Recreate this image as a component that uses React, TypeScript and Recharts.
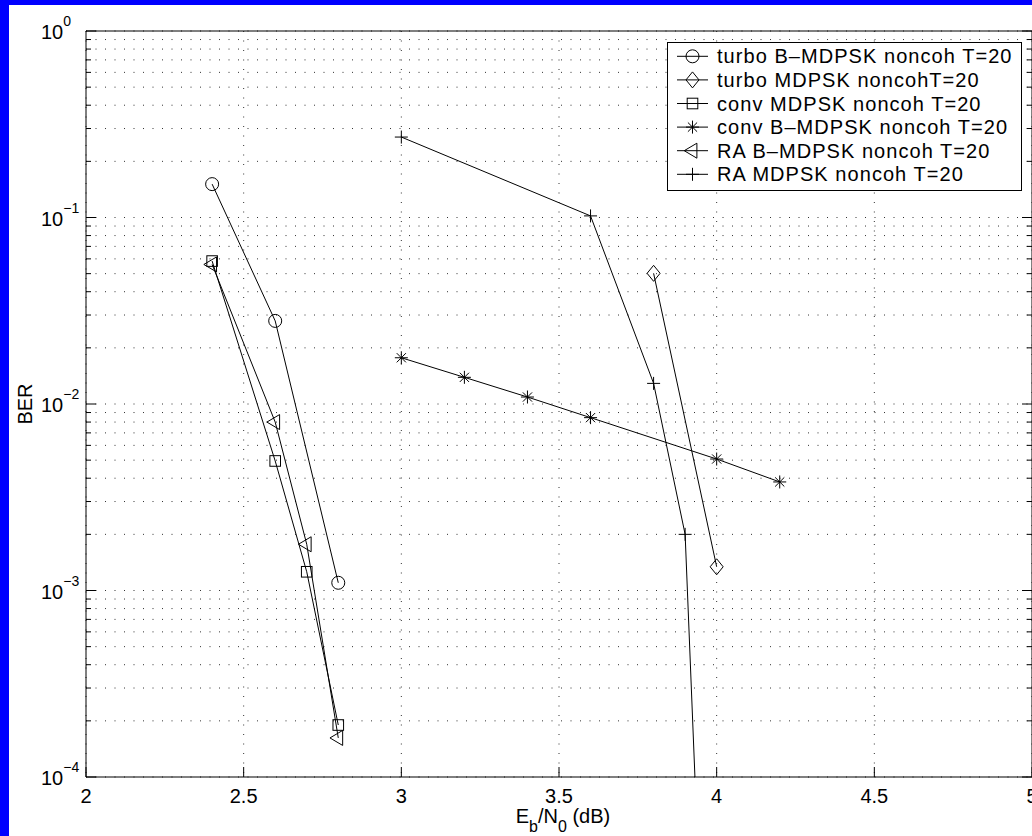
import React from 'react';
import { LineChart, Line, XAxis, YAxis, CartesianGrid, Legend } from 'recharts';

// BER curves vs Eb/N0 for noncoherent MDPSK / B-MDPSK schemes, T=20
const turboBX = [2.4, 2.6, 2.8];
const turboBBer = [0.151, 0.0279, 0.0011];

const turboX = [3.8, 4.0];
const turboBer = [0.0502, 0.00134];

const convX = [2.4, 2.6, 2.7, 2.8];
const convBer = [0.0584, 0.00495, 0.00126, 0.00019];

const convBX = [3.0, 3.2, 3.4, 3.6, 4.0, 4.2];
const convBBer = [0.0177, 0.0139, 0.0109, 0.00845, 0.00507, 0.00382];

const raBX = [2.4, 2.6, 2.7, 2.8];
const raBBer = [0.056, 0.008, 0.00177, 0.000162];

const raX = [3.0, 3.6, 3.8, 3.9, 4.0];
const raBer = [0.27, 0.102, 0.0129, 0.002, 1.3e-7];

const xTicks = [2, 2.5, 3, 3.5, 4, 4.5, 5];
const decades = [-4, -3, -2, -1];
const yTicks = [...decades.flatMap(d => [1, 2, 3, 4, 5, 6, 7, 8, 9].map(m => m * Math.pow(10, d))), 1];

const FONT = '"Liberation Sans", Arial, Helvetica, sans-serif';

const toPoints = (xs: number[], ys: number[]) => xs.map((x, i) => ({ x, y: ys[i] }));

type MarkerKind = 'circle' | 'diamond' | 'square' | 'star' | 'triangle' | 'plus';

const series: { name: string; marker: MarkerKind; data: { x: number; y: number }[] }[] = [
  { name: 'turbo B\u2013MDPSK noncoh T=20', marker: 'circle', data: toPoints(turboBX, turboBBer) },
  { name: 'turbo MDPSK noncohT=20', marker: 'diamond', data: toPoints(turboX, turboBer) },
  { name: 'conv MDPSK noncoh T=20', marker: 'square', data: toPoints(convX, convBer) },
  { name: 'conv B\u2013MDPSK noncoh T=20', marker: 'star', data: toPoints(convBX, convBBer) },
  { name: 'RA B\u2013MDPSK noncoh T=20', marker: 'triangle', data: toPoints(raBX, raBBer) },
  { name: 'RA MDPSK noncoh T=20', marker: 'plus', data: toPoints(raX, raBer) },
];

function Marker({ kind, cx, cy }: { kind: MarkerKind; cx: number; cy: number }) {
  const s = { fill: 'none', stroke: '#000', strokeWidth: 1 };
  switch (kind) {
    case 'circle':
      return <circle cx={cx} cy={cy} r={6.5} {...s} />;
    case 'diamond':
      return <polygon points={`${cx},${cy - 8} ${cx + 6.5},${cy} ${cx},${cy + 8} ${cx - 6.5},${cy}`} {...s} />;
    case 'square':
      return <rect x={cx - 5.3} y={cy - 5.3} width={10.6} height={10.6} {...s} />;
    case 'star':
      return (
        <path
          d={`M${cx - 6.5},${cy}H${cx + 6.5}M${cx},${cy - 6.5}V${cy + 6.5}M${cx - 4.6},${cy - 4.6}L${cx + 4.6},${cy + 4.6}M${cx - 4.6},${cy + 4.6}L${cx + 4.6},${cy - 4.6}`}
          {...s}
        />
      );
    case 'triangle':
      return <polygon points={`${cx - 8.3},${cy} ${cx + 4.4},${cy - 7.5} ${cx + 4.4},${cy + 7.5}`} {...s} />;
    case 'plus':
      return <path d={`M${cx - 6.5},${cy}H${cx + 6.5}M${cx},${cy - 6.5}V${cy + 6.5}`} {...s} />;
  }
  return null;
}

const isDecade = (v: number) => Math.abs(Math.log10(v) - Math.round(Math.log10(v))) < 1e-9;

const LeftTick = (p: any) => {
  const v = p.payload.value;
  const major = isDecade(v);
  const exp = Math.round(Math.log10(v));
  return (
    <g>
      <line x1={p.x} x2={p.x + (major ? 10 : 5)} y1={p.y} y2={p.y} stroke="#000" />
      {major && (
        <text x={p.x - 45} y={p.y + 8} fontFamily={FONT} fontSize={20} fill="#000">
          10
          <tspan dy={-13} fontSize={14}>
            {exp < 0 ? `\u2212${-exp}` : `${exp}`}
          </tspan>
        </text>
      )}
    </g>
  );
};

const RightTick = (p: any) => {
  const major = isDecade(p.payload.value);
  return <line x1={p.x} x2={p.x - (major ? 10 : 5)} y1={p.y} y2={p.y} stroke="#000" />;
};

const BottomTick = (p: any) => (
  <g>
    <line x1={p.x} x2={p.x} y1={p.y} y2={p.y - 10} stroke="#000" />
    <text x={p.x} y={p.y + 26} textAnchor="middle" fontFamily={FONT} fontSize={20} fill="#000">
      {String(p.payload.value)}
    </text>
  </g>
);

const TopTick = (p: any) => <line x1={p.x} x2={p.x} y1={p.y} y2={p.y + 10} stroke="#000" />;

const BerTitle = () => (
  <text
    x={22.5}
    y={399}
    transform="rotate(-90, 22.5, 399)"
    textAnchor="middle"
    fontFamily={FONT}
    fontSize={20}
    fill="#000"
  >
    BER
  </text>
);

const EbN0Title = () => (
  <text x={554} y={818} textAnchor="middle" fontFamily={FONT} fontSize={20} fill="#000">
    E<tspan dy={9} fontSize={16}>b</tspan>
    <tspan dy={-9}>/N</tspan>
    <tspan dy={9} fontSize={16}>0</tspan>
    <tspan dy={-9}> (dB)</tspan>
  </text>
);

const LegendBox = () => (
  <svg width={355} height={149} style={{ display: 'block' }}>
    <rect x={0.5} y={0.5} width={354} height={148} fill="#fff" stroke="#000" strokeWidth={1} />
    {series.map((s, i) => {
      const cy = 14.3 + i * 23.6;
      return (
        <g key={s.name}>
          <line x1={10} x2={41} y1={cy} y2={cy} stroke="#000" />
          <Marker kind={s.marker} cx={25.5} cy={cy} />
          <text x={50} y={cy + 7} fontFamily={FONT} fontSize={20} letterSpacing={1.05} fill="#000">
            {s.name}
          </text>
        </g>
      );
    })}
  </svg>
);

export default function App() {
  return (
    <div
      style={{
        position: 'fixed',
        left: 0,
        top: 0,
        width: 1032,
        height: 836,
        overflow: 'hidden',
        background: '#0000ff',
      }}
    >
      <div style={{ position: 'absolute', left: 9, top: 5, width: 1023, height: 831, background: '#fff' }}>
        <LineChart width={1030} height={831} margin={{ top: 0, right: 0, bottom: 0, left: 0 }}>
          <CartesianGrid stroke="#333" strokeDasharray="1 8.5" />
          <XAxis
            dataKey="x"
            type="number"
            domain={[2, 5]}
            ticks={xTicks}
            interval={0}
            allowDataOverflow
            height={59}
            tickSize={0}
            tickMargin={0}
            tickLine={false}
            axisLine={{ stroke: '#000' }}
            tick={BottomTick}
            label={<EbN0Title />}
          />
          <XAxis
            xAxisId="top"
            orientation="top"
            type="number"
            domain={[2, 5]}
            ticks={xTicks}
            interval={0}
            allowDataOverflow
            height={26}
            tickSize={0}
            tickMargin={0}
            tickLine={false}
            axisLine={{ stroke: '#000' }}
            tick={TopTick}
          />
          <YAxis
            type="number"
            scale="log"
            domain={[1e-4, 1]}
            ticks={yTicks}
            interval={0}
            allowDataOverflow
            width={77}
            tickSize={0}
            tickMargin={0}
            tickLine={false}
            axisLine={{ stroke: '#000' }}
            tick={LeftTick}
            label={<BerTitle />}
          />
          <YAxis
            yAxisId="right"
            orientation="right"
            type="number"
            scale="log"
            domain={[1e-4, 1]}
            ticks={yTicks}
            interval={0}
            allowDataOverflow
            width={7}
            tickSize={0}
            tickMargin={0}
            tickLine={false}
            axisLine={{ stroke: '#000' }}
            tick={RightTick}
          />
          <Legend
            layout="vertical"
            align="center"
            verticalAlign="middle"
            content={() => <LegendBox />}
            wrapperStyle={{ left: 658, top: 37, width: 355, height: 149 }}
          />
          {series.map(s => (
            <Line
              key={s.name}
              name={s.name}
              data={s.data}
              dataKey="y"
              stroke="#000"
              strokeWidth={1}
              isAnimationActive={false}
              activeDot={false}
              dot={(p: any) => (
                <g key={`${s.marker}-${p.index}`}>
                  <Marker kind={s.marker} cx={p.cx} cy={p.cy} />
                </g>
              )}
            />
          ))}
        </LineChart>
      </div>
    </div>
  );
}
